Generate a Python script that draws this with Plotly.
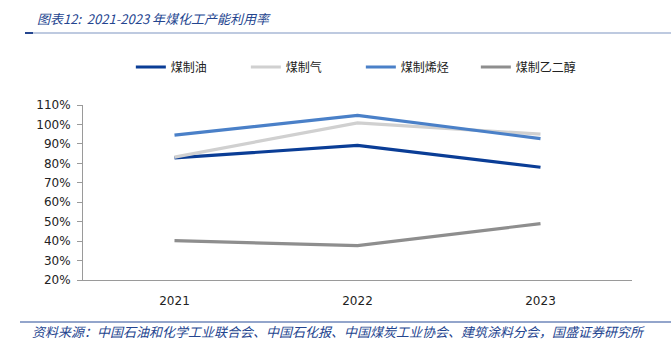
import plotly.graph_objects as go

years = ["2021", "2022", "2023"]
coal_oil = [82.8, 89.2, 78.0]
coal_gas = [83.2, 100.8, 95.0]
coal_olefin = [94.5, 104.7, 92.7]
coal_glycol = [40.2, 37.7, 49.0]

names = ["煤制油", "煤制气", "煤制烯烃", "煤制乙二醇"]
colors = ["#0A3D96", "#D0D0D0", "#4A80C8", "#8E8E8E"]
series = [coal_oil, coal_gas, coal_olefin, coal_glycol]

fig = go.Figure()
for n, c, s in zip(names, colors, series):
    fig.add_trace(go.Scatter(x=years, y=s, name=n, mode="lines",
                             line=dict(color=c, width=3.2)))

fig.update_layout(
    width=671, height=345,
    margin=dict(l=83, r=39, t=105, b=65),
    paper_bgcolor="white", plot_bgcolor="white",
    font=dict(family="DejaVu Sans, Verdana", size=12, color="#222"),
    showlegend=True,
    legend=dict(orientation="h", xref="container", yref="container",
                x=0.195, y=1 - 67 / 345, xanchor="left", yanchor="middle",
                font=dict(family="Noto Sans CJK SC", size=12, color="#222"),
                entrywidth=70, entrywidthmode="pixels",
                itemwidth=30, tracegroupgap=0),
    xaxis=dict(type="category", range=[-0.5, 2.5], showline=True, linecolor="#9a9a9a", linewidth=1,
               ticks="", showgrid=False, ticklabelstandoff=10,
               tickfont=dict(size=12)),
    yaxis=dict(range=[20, 110], dtick=10, ticksuffix="%", showline=True,
               linecolor="#9a9a9a", linewidth=1, ticks="outside", ticklen=5,
               tickcolor="#9a9a9a", showgrid=False, zeroline=False,
               tickfont=dict(size=12), ticklabelstandoff=4),
)

fig.add_annotation(text="<i>图表12:  2021-2023 年煤化工产能利用率</i>",
                   xref="x domain", yref="y domain", x=-0.088, y=1.0 + (105 - 18) / 175,
                   xanchor="left", yanchor="middle", showarrow=False,
                   font=dict(family="Noto Sans CJK SC", size=13, color="#24458F"))
fig.add_annotation(text="<i>资料来源：中国石油和化学工业联合会、中国石化报、中国煤炭工业协会、建筑涂料分会，国盛证券研究所</i>",
                   xref="x domain", yref="y domain", x=-0.097, y=-(331 - 280) / 175,
                   xanchor="left", yanchor="middle", showarrow=False,
                   font=dict(family="Noto Sans CJK SC", size=13, color="#24458F"))

# header and footer rules
fig.add_shape(type="line", xref="paper", yref="paper", x0=-58 / 549, x1=1 + 39 / 549,
              y0=1 + (105 - 33) / 175, y1=1 + (105 - 33) / 175,
              line=dict(color="#A9B8D6", width=1.5))
fig.add_shape(type="line", xref="paper", yref="paper", x0=-58 / 549, x1=-50 / 549,
              y0=1 + (105 - 33) / 175, y1=1 + (105 - 33) / 175,
              line=dict(color="#24458F", width=2))
fig.add_shape(type="line", xref="paper", yref="paper", x0=-63 / 549, x1=1 + 39 / 549,
              y0=-(322 - 280) / 175, y1=-(322 - 280) / 175,
              line=dict(color="#6F87BA", width=1.5))

fig.write_html("out.html")
